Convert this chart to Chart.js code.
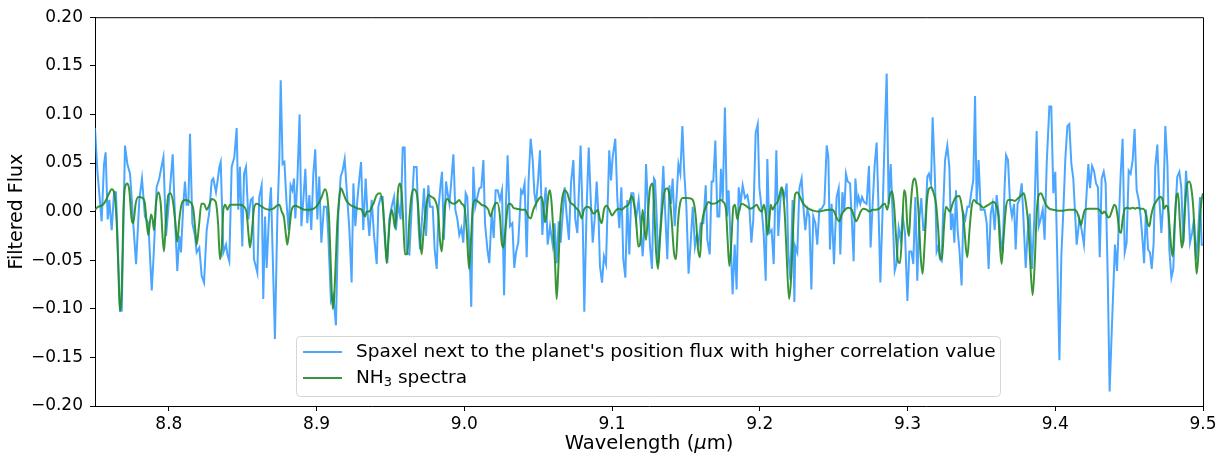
<!DOCTYPE html>
<html>
<head>
<meta charset="utf-8">
<script src="https://cdn.jsdelivr.net/npm/chart.js@4/dist/chart.umd.min.js"></script>
<style>
  html, body { margin: 0; padding: 0; background: #fff; }
  #wrap { width: 1225px; height: 461px; }
</style>
</head>
<body>
<div id="wrap"><canvas id="chart" width="1225" height="461"></canvas></div>
<script>
'use strict'

// spaxel flux (blue)
const blueWave = [
  8.7500, 8.7516, 8.7545, 8.7561, 8.7572, 8.7586, 8.7597, 8.7613, 8.7629, 8.7642,
  8.7669, 8.7681, 8.7703, 8.7719, 8.7737, 8.7748, 8.7759, 8.7778, 8.7800, 8.7818,
  8.7838, 8.7861, 8.7884, 8.7899, 8.7917, 8.7935, 8.7951, 8.7963, 8.7981, 8.8003,
  8.8026, 8.8042, 8.8057, 8.8071, 8.8082, 8.8098, 8.8109, 8.8120, 8.8132, 8.8143,
  8.8159, 8.8177, 8.8188, 8.8206, 8.8222, 8.8238, 8.8256, 8.8274, 8.8290, 8.8301,
  8.8319, 8.8330, 8.8342, 8.8351, 8.8369, 8.8387, 8.8396, 8.8409, 8.8425, 8.8443,
  8.8459, 8.8470, 8.8481, 8.8497, 8.8509, 8.8522, 8.8538, 8.8554, 8.8567, 8.8576,
  8.8588, 8.8599, 8.8612, 8.8628, 8.8639, 8.8651, 8.8662, 8.8680, 8.8691, 8.8703,
  8.8718, 8.8734, 8.8748, 8.8757, 8.8770, 8.8782, 8.8797, 8.8811, 8.8824, 8.8836,
  8.8847, 8.8856, 8.8870, 8.8885, 8.8897, 8.8910, 8.8924, 8.8937, 8.8951, 8.8964,
  8.8978, 8.8991, 8.9005, 8.9018, 8.9032, 8.9050, 8.9068, 8.9079, 8.9097, 8.9113,
  8.9131, 8.9147, 8.9163, 8.9176, 8.9190, 8.9204, 8.9222, 8.9237, 8.9249, 8.9262,
  8.9276, 8.9289, 8.9301, 8.9316, 8.9332, 8.9343, 8.9357, 8.9373, 8.9389, 8.9407,
  8.9418, 8.9434, 8.9447, 8.9463, 8.9479, 8.9492, 8.9508, 8.9524, 8.9537, 8.9553,
  8.9569, 8.9583, 8.9596, 8.9610, 8.9628, 8.9644, 8.9659, 8.9677, 8.9689, 8.9700,
  8.9716, 8.9727, 8.9741, 8.9756, 8.9768, 8.9786, 8.9799, 8.9813, 8.9826, 8.9840,
  8.9849, 8.9862, 8.9876, 8.9889, 8.9899, 8.9912, 8.9926, 8.9939, 8.9953, 8.9966,
  8.9980, 8.9993, 9.0009, 9.0020, 9.0034, 9.0047, 9.0061, 9.0074, 9.0088, 9.0102,
  9.0115, 9.0129, 9.0140, 9.0156, 9.0169, 9.0185, 9.0199, 9.0212, 9.0226, 9.0241,
  9.0255, 9.0269, 9.0282, 9.0293, 9.0309, 9.0325, 9.0338, 9.0350, 9.0365, 9.0384,
  9.0395, 9.0408, 9.0422, 9.0435, 9.0449, 9.0463, 9.0474, 9.0485, 9.0499, 9.0512,
  9.0528, 9.0539, 9.0551, 9.0564, 9.0580, 9.0598, 9.0611, 9.0625, 9.0639, 9.0652,
  9.0666, 9.0679, 9.0693, 9.0708, 9.0722, 9.0738, 9.0751, 9.0765, 9.0787, 9.0801,
  9.0812, 9.0828, 9.0842, 9.0855, 9.0869, 9.0882, 9.0896, 9.0909, 9.0918, 9.0932,
  9.0945, 9.0959, 9.0968, 9.0981, 9.0993, 9.1004, 9.1022, 9.1036, 9.1049, 9.1063,
  9.1076, 9.1090, 9.1103, 9.1117, 9.1130, 9.1144, 9.1162, 9.1180, 9.1194, 9.1207,
  9.1221, 9.1230, 9.1243, 9.1257, 9.1270, 9.1284, 9.1291, 9.1302, 9.1313, 9.1329,
  9.1347, 9.1358, 9.1374, 9.1388, 9.1399, 9.1410, 9.1424, 9.1437, 9.1449, 9.1462,
  9.1476, 9.1489, 9.1503, 9.1518, 9.1532, 9.1546, 9.1561, 9.1573, 9.1586, 9.1600,
  9.1618, 9.1634, 9.1645, 9.1661, 9.1674, 9.1685, 9.1699, 9.1713, 9.1726, 9.1737,
  9.1749, 9.1764, 9.1778, 9.1789, 9.1803, 9.1816, 9.1830, 9.1843, 9.1857, 9.1870,
  9.1884, 9.1900, 9.1916, 9.1929, 9.1943, 9.1956, 9.1972, 9.1986, 9.1997, 9.2013,
  9.2026, 9.2040, 9.2051, 9.2065, 9.2080, 9.2094, 9.2112, 9.2125, 9.2141, 9.2155,
  9.2168, 9.2182, 9.2193, 9.2207, 9.2222, 9.2234, 9.2240, 9.2254, 9.2268, 9.2283,
  9.2295, 9.2308, 9.2322, 9.2335, 9.2349, 9.2362, 9.2376, 9.2389, 9.2403, 9.2419,
  9.2437, 9.2453, 9.2464, 9.2475, 9.2486, 9.2502, 9.2520, 9.2534, 9.2545, 9.2559,
  9.2572, 9.2583, 9.2595, 9.2611, 9.2624, 9.2635, 9.2647, 9.2660, 9.2669, 9.2680,
  9.2692, 9.2705, 9.2723, 9.2739, 9.2750, 9.2764, 9.2778, 9.2791, 9.2802, 9.2816,
  9.2832, 9.2847, 9.2859, 9.2872, 9.2886, 9.2899, 9.2913, 9.2926, 9.2940, 9.2954,
  9.2967, 9.2983, 9.2999, 9.3012, 9.3026, 9.3039, 9.3053, 9.3066, 9.3080, 9.3093,
  9.3107, 9.3118, 9.3134, 9.3145, 9.3159, 9.3170, 9.3186, 9.3197, 9.3208, 9.3220,
  9.3231, 9.3242, 9.3254, 9.3269, 9.3283, 9.3294, 9.3305, 9.3317, 9.3328, 9.3339,
  9.3351, 9.3366, 9.3378, 9.3391, 9.3405, 9.3418, 9.3434, 9.3445, 9.3457, 9.3468,
  9.3481, 9.3495, 9.3509, 9.3522, 9.3536, 9.3549, 9.3563, 9.3576, 9.3590, 9.3603,
  9.3617, 9.3630, 9.3644, 9.3657, 9.3667, 9.3680, 9.3694, 9.3707, 9.3721, 9.3732,
  9.3745, 9.3757, 9.3773, 9.3784, 9.3800, 9.3813, 9.3827, 9.3842, 9.3858, 9.3874,
  9.3888, 9.3901, 9.3915, 9.3928, 9.3942, 9.3960, 9.3973, 9.3987, 9.4000, 9.4014,
  9.4028, 9.4041, 9.4055, 9.4068, 9.4082, 9.4095, 9.4109, 9.4122, 9.4145, 9.4163,
  9.4179, 9.4194, 9.4208, 9.4224, 9.4235, 9.4249, 9.4262, 9.4276, 9.4289, 9.4301,
  9.4314, 9.4328, 9.4341, 9.4355, 9.4368, 9.4382, 9.4395, 9.4404, 9.4418, 9.4429,
  9.4443, 9.4456, 9.4470, 9.4483, 9.4497, 9.4510, 9.4524, 9.4537, 9.4551, 9.4565,
  9.4578, 9.4592, 9.4601, 9.4614, 9.4628, 9.4641, 9.4653, 9.4666, 9.4677, 9.4691,
  9.4704, 9.4718, 9.4731, 9.4745, 9.4759, 9.4772, 9.4786, 9.4799, 9.4813, 9.4826,
  9.4840, 9.4853, 9.4867, 9.4885, 9.4898, 9.4912, 9.4926, 9.4939, 9.4953, 9.4968,
  9.4980, 9.4991, 9.5000
]
const blueFlux = [
  0.086, 0.042, -0.010, 0.049, 0.061, -0.008, 0.012, -0.019, 0.020, 0.020,
  -0.102, -0.102, 0.068, 0.049, 0.039, 0.015, -0.012, -0.054, 0.012, 0.034,
  -0.005, -0.012, -0.081, -0.039, 0.025, 0.034, 0.047, 0.056, -0.025, 0.015,
  0.059, -0.008, -0.061, -0.025, -0.042, 0.008, 0.031, 0.007, 0.007, 0.080,
  -0.012, -0.025, -0.042, -0.037, -0.066, -0.073, -0.019, 0.000, 0.032, 0.034,
  0.020, 0.032, 0.046, 0.051, -0.042, -0.034, -0.044, -0.051, 0.046, 0.056,
  0.086, 0.002, 0.046, -0.036, 0.039, 0.046, -0.008, 0.012, 0.014, -0.049,
  -0.056, -0.063, 0.015, 0.027, -0.090, -0.005, -0.058, 0.002, 0.025, -0.046,
  -0.131, -0.008, 0.056, 0.135, 0.049, 0.051, 0.008, -0.019, 0.027, 0.022,
  0.034, -0.007, 0.032, 0.100, -0.015, 0.012, 0.044, -0.012, 0.017, -0.019,
  0.039, 0.064, -0.008, 0.036, -0.032, 0.005, 0.005, -0.024, -0.092, -0.086,
  -0.117, -0.003, 0.036, 0.042, 0.054, 0.022, -0.019, -0.073, 0.029, -0.015,
  0.012, 0.034, 0.051, -0.019, 0.034, 0.002, -0.025, 0.012, -0.025, -0.054,
  0.005, 0.015, 0.015, -0.032, -0.053, -0.008, 0.005, 0.015, -0.019, 0.008,
  -0.008, 0.066, 0.066, -0.042, -0.044, 0.005, 0.046, 0.046, -0.012, -0.039,
  -0.002, 0.024, -0.025, 0.027, 0.005, 0.005, -0.039, -0.059, 0.005, 0.029,
  0.041, -0.029, 0.031, 0.017, 0.008, 0.032, 0.059, 0.002, -0.008, -0.024,
  -0.017, -0.032, 0.019, 0.015, -0.037, -0.098, 0.046, 0.005, 0.015, 0.024,
  0.025, 0.053, -0.012, -0.039, -0.053, -0.002, -0.027, 0.022, 0.022, 0.012,
  0.022, -0.086, 0.008, 0.058, -0.015, -0.012, -0.058, -0.042, -0.032, 0.022,
  0.019, 0.029, -0.047, 0.032, 0.075, 0.053, 0.019, 0.008, 0.032, 0.063,
  -0.024, 0.005, 0.025, -0.034, -0.015, -0.034, -0.012, -0.053, -0.010, -0.032,
  -0.003, 0.025, -0.005, -0.029, 0.029, 0.053, -0.008, -0.022, 0.068, -0.008,
  -0.103, 0.005, 0.066, 0.015, -0.032, -0.008, 0.031, -0.008, -0.056, -0.073,
  -0.046, -0.054, -0.005, 0.063, 0.032, 0.056, 0.075, 0.012, -0.017, 0.025,
  -0.049, -0.068, 0.012, -0.044, 0.019, 0.019, -0.008, 0.012, -0.015, -0.046,
  -0.012, 0.049, 0.005, -0.036, -0.059, 0.034, 0.032, -0.005, -0.053, -0.012,
  0.047, 0.005, -0.049, 0.027, 0.008, 0.034, -0.015, 0.015, 0.049, 0.039,
  0.088, 0.039, 0.005, -0.064, -0.032, 0.005, -0.036, -0.025, -0.032, -0.012,
  -0.012, 0.027, -0.029, -0.044, 0.031, 0.031, 0.073, -0.005, -0.005, 0.044,
  0.012, 0.107, -0.005, 0.022, -0.032, -0.085, -0.034, -0.080, 0.025, 0.008,
  0.027, 0.014, 0.017, 0.005, -0.032, -0.008, 0.081, 0.090, 0.025, 0.002,
  -0.022, -0.071, 0.054, -0.022, -0.019, -0.054, 0.063, -0.025, 0.015, 0.022,
  0.015, 0.029, -0.042, -0.070, 0.012, -0.093, -0.036, -0.042, 0.024, 0.034,
  0.005, -0.019, 0.002, -0.005, -0.080, -0.005, -0.012, -0.034, 0.002, 0.003,
  0.008, 0.068, 0.056, -0.039, 0.008, -0.054, 0.015, 0.024, -0.044, 0.020,
  0.000, 0.039, 0.031, 0.029, -0.012, -0.051, 0.034, 0.008, 0.015, 0.008,
  0.015, 0.010, 0.008, 0.047, -0.037, 0.008, 0.049, 0.071, 0.012, -0.073,
  0.005, 0.086, 0.142, 0.008, 0.049, -0.002, -0.061, -0.053, -0.017, -0.029,
  -0.005, -0.022, -0.092, -0.041, -0.041, -0.054, 0.015, -0.071, -0.008, 0.014,
  -0.019, -0.019, 0.036, 0.039, 0.029, 0.097, 0.032, -0.041, -0.036, -0.049,
  -0.051, 0.005, 0.053, 0.068, 0.046, -0.019, -0.002, -0.032, 0.022, -0.019,
  -0.039, -0.076, -0.002, -0.008, 0.005, 0.005, 0.022, 0.032, 0.119, 0.008,
  0.053, 0.002, 0.002, 0.002, -0.012, -0.059, -0.002, 0.008, -0.019, 0.017,
  -0.002, -0.029, -0.042, 0.025, 0.058, 0.053, 0.008, -0.005, 0.008, -0.039,
  0.008, 0.012, 0.029, -0.005, -0.058, -0.022, -0.002, -0.059, -0.008, 0.083,
  -0.015, -0.008, 0.002, -0.029, 0.049, 0.108, 0.108, 0.019, 0.041, -0.049,
  -0.153, -0.046, 0.002, 0.054, 0.088, 0.090, 0.049, 0.034, -0.034, -0.008,
  -0.019, -0.034, 0.008, 0.049, 0.024, 0.047, 0.042, 0.029, 0.025, -0.047,
  0.034, 0.041, 0.029, -0.066, -0.185, -0.124, -0.071, -0.034, -0.061, -0.015,
  0.039, 0.075, -0.042, -0.032, 0.042, 0.039, 0.053, 0.085, 0.022, 0.012,
  -0.005, -0.032, -0.053, 0.002, -0.039, -0.042, -0.059, -0.032, 0.046, 0.069,
  0.015, -0.022, 0.008, 0.088, 0.049, -0.039, -0.068, -0.059, 0.002, 0.036,
  0.041, 0.025, -0.032, 0.042, 0.015, -0.032, -0.022, -0.008, -0.049, -0.019,
  0.015, -0.034, -0.034
]

// NH3 model spectrum (green)
const greenWave = [
  8.7500, 8.7523, 8.7545, 8.7568, 8.7590, 8.7613, 8.7629, 8.7647, 8.7658, 8.7669,
  8.7681, 8.7692, 8.7703, 8.7719, 8.7732, 8.7748, 8.7759, 8.7775, 8.7793, 8.7823,
  8.7838, 8.7850, 8.7861, 8.7879, 8.7890, 8.7899, 8.7913, 8.7929, 8.7945, 8.7958,
  8.7967, 8.7981, 8.7996, 8.8012, 8.8030, 8.8046, 8.8057, 8.8071, 8.8087, 8.8109,
  8.8143, 8.8166, 8.8179, 8.8188, 8.8204, 8.8220, 8.8238, 8.8256, 8.8274, 8.8290,
  8.8317, 8.8333, 8.8346, 8.8357, 8.8369, 8.8382, 8.8396, 8.8414, 8.8481, 8.8509,
  8.8527, 8.8540, 8.8549, 8.8563, 8.8576, 8.8594, 8.8621, 8.8651, 8.8680, 8.8707,
  8.8730, 8.8748, 8.8764, 8.8779, 8.8793, 8.8802, 8.8815, 8.8831, 8.8854, 8.8888,
  8.8921, 8.8955, 8.8982, 8.9012, 8.9034, 8.9057, 8.9073, 8.9086, 8.9097, 8.9109,
  8.9118, 8.9131, 8.9140, 8.9154, 8.9165, 8.9181, 8.9199, 8.9226, 8.9253, 8.9282,
  8.9305, 8.9316, 8.9328, 8.9339, 8.9357, 8.9373, 8.9384, 8.9407, 8.9429, 8.9447,
  8.9463, 8.9474, 8.9486, 8.9497, 8.9508, 8.9519, 8.9531, 8.9542, 8.9553, 8.9565,
  8.9576, 8.9587, 8.9598, 8.9614, 8.9628, 8.9641, 8.9659, 8.9677, 8.9689, 8.9700,
  8.9711, 8.9722, 8.9741, 8.9756, 8.9779, 8.9801, 8.9824, 8.9835, 8.9847, 8.9858,
  8.9871, 8.9885, 8.9903, 8.9926, 8.9944, 8.9966, 8.9982, 9.0000, 9.0016, 9.0032,
  9.0045, 9.0056, 9.0072, 9.0095, 9.0117, 9.0147, 9.0162, 9.0178, 9.0192, 9.0208,
  9.0223, 9.0241, 9.0253, 9.0264, 9.0282, 9.0298, 9.0320, 9.0332, 9.0354, 9.0388,
  9.0411, 9.0433, 9.0449, 9.0467, 9.0485, 9.0508, 9.0523, 9.0535, 9.0546, 9.0557,
  9.0569, 9.0580, 9.0591, 9.0602, 9.0614, 9.0625, 9.0636, 9.0648, 9.0663, 9.0681,
  9.0697, 9.0715, 9.0738, 9.0760, 9.0778, 9.0794, 9.0810, 9.0833, 9.0855, 9.0873,
  9.0891, 9.0903, 9.0918, 9.0930, 9.0945, 9.0963, 9.0981, 9.1000, 9.1020, 9.1042,
  9.1065, 9.1088, 9.1110, 9.1133, 9.1148, 9.1162, 9.1178, 9.1189, 9.1207, 9.1218,
  9.1230, 9.1245, 9.1257, 9.1275, 9.1284, 9.1297, 9.1311, 9.1324, 9.1343, 9.1358,
  9.1374, 9.1388, 9.1403, 9.1419, 9.1433, 9.1446, 9.1460, 9.1478, 9.1505, 9.1539,
  9.1555, 9.1568, 9.1582, 9.1595, 9.1607, 9.1618, 9.1636, 9.1652, 9.1674, 9.1708,
  9.1735, 9.1753, 9.1771, 9.1782, 9.1794, 9.1807, 9.1821, 9.1832, 9.1848, 9.1861,
  9.1877, 9.1907, 9.1934, 9.1961, 9.1979, 9.1997, 9.2013, 9.2028, 9.2042, 9.2051,
  9.2065, 9.2074, 9.2087, 9.2103, 9.2121, 9.2137, 9.2148, 9.2159, 9.2171, 9.2182,
  9.2198, 9.2213, 9.2227, 9.2238, 9.2254, 9.2272, 9.2295, 9.2329, 9.2362, 9.2396,
  9.2430, 9.2464, 9.2493, 9.2509, 9.2525, 9.2538, 9.2554, 9.2577, 9.2599, 9.2622,
  9.2638, 9.2651, 9.2667, 9.2683, 9.2701, 9.2723, 9.2741, 9.2764, 9.2787, 9.2809,
  9.2832, 9.2847, 9.2863, 9.2881, 9.2895, 9.2908, 9.2922, 9.2935, 9.2949, 9.2963,
  9.2976, 9.2987, 9.2999, 9.3010, 9.3021, 9.3035, 9.3048, 9.3062, 9.3075, 9.3089,
  9.3102, 9.3116, 9.3130, 9.3143, 9.3161, 9.3175, 9.3193, 9.3208, 9.3220, 9.3233,
  9.3247, 9.3260, 9.3276, 9.3287, 9.3305, 9.3328, 9.3351, 9.3366, 9.3382, 9.3396,
  9.3405, 9.3418, 9.3434, 9.3450, 9.3468, 9.3491, 9.3513, 9.3536, 9.3558, 9.3581,
  9.3599, 9.3615, 9.3626, 9.3637, 9.3648, 9.3667, 9.3682, 9.3705, 9.3727, 9.3750,
  9.3773, 9.3788, 9.3802, 9.3818, 9.3833, 9.3847, 9.3863, 9.3874, 9.3888, 9.3903,
  9.3919, 9.3937, 9.3960, 9.3987, 9.4021, 9.4055, 9.4088, 9.4127, 9.4145, 9.4163,
  9.4174, 9.4185, 9.4201, 9.4224, 9.4258, 9.4285, 9.4303, 9.4319, 9.4332, 9.4343,
  9.4359, 9.4370, 9.4386, 9.4400, 9.4411, 9.4422, 9.4434, 9.4445, 9.4456, 9.4472,
  9.4488, 9.4506, 9.4524, 9.4540, 9.4556, 9.4574, 9.4596, 9.4614, 9.4625, 9.4637,
  9.4648, 9.4664, 9.4682, 9.4700, 9.4713, 9.4727, 9.4736, 9.4750, 9.4761, 9.4772,
  9.4786, 9.4795, 9.4808, 9.4822, 9.4831, 9.4844, 9.4856, 9.4867, 9.4880, 9.4894,
  9.4907, 9.4921, 9.4935, 9.4948, 9.4957, 9.4968, 9.4980, 9.4991, 9.5000
]
const greenFlux = [
  0.002, 0.005, 0.006, 0.010, 0.017, 0.023, 0.020, -0.012, -0.059, -0.102,
  -0.080, -0.002, 0.025, 0.029, 0.022, -0.008, -0.012, 0.008, 0.015, 0.014,
  0.008, -0.012, -0.024, -0.003, -0.008, -0.019, 0.008, 0.020, 0.008, -0.027,
  -0.041, -0.008, 0.017, 0.019, 0.008, -0.015, -0.031, -0.008, 0.008, 0.012,
  0.010, 0.002, -0.019, -0.034, -0.014, 0.008, 0.008, 0.002, 0.007, 0.013,
  0.010, -0.012, -0.049, -0.039, 0.002, 0.007, 0.002, 0.007, 0.007, 0.005,
  -0.002, -0.025, -0.037, -0.019, 0.003, 0.008, 0.006, 0.003, 0.002, 0.003,
  0.006, 0.007, 0.000, -0.006, -0.025, -0.034, -0.019, 0.002, 0.006, 0.004,
  0.002, 0.002, 0.003, 0.008, 0.015, 0.023, 0.015, -0.012, -0.059, -0.100,
  -0.090, -0.046, -0.012, 0.015, 0.024, 0.019, 0.012, 0.007, 0.005, 0.003,
  0.002, -0.002, -0.005, 0.000, 0.000, 0.005, 0.008, 0.017, 0.019, 0.008,
  -0.025, -0.053, -0.029, -0.008, 0.002, -0.005, -0.017, 0.002, 0.024, 0.029,
  0.019, -0.012, -0.044, -0.044, -0.008, 0.015, 0.023, 0.019, 0.002, -0.029,
  -0.044, -0.025, 0.005, 0.017, 0.015, 0.012, -0.003, -0.029, -0.041, -0.019,
  0.008, 0.013, 0.010, 0.008, 0.009, 0.012, 0.008, 0.005, -0.019, -0.059,
  -0.029, 0.002, 0.012, 0.010, 0.007, 0.005, 0.002, -0.005, 0.002, 0.008,
  0.009, -0.005, -0.032, -0.037, -0.012, 0.008, 0.007, 0.004, 0.003, 0.002,
  0.002, -0.005, -0.007, 0.002, 0.008, 0.014, 0.015, 0.005, -0.011, -0.002,
  0.017, 0.022, 0.008, -0.019, -0.053, -0.090, -0.059, -0.012, 0.014, 0.022,
  0.019, 0.010, 0.007, 0.003, 0.000, -0.007, 0.002, 0.005, 0.003, -0.002,
  0.000, 0.002, -0.008, -0.012, 0.002, 0.006, 0.002, -0.004, 0.000, 0.003,
  0.002, 0.005, 0.007, 0.016, 0.008, -0.008, -0.036, -0.034, 0.002, -0.015,
  -0.029, 0.002, 0.024, 0.029, 0.008, -0.039, -0.059, -0.029, 0.008, 0.022,
  0.024, 0.017, -0.008, -0.042, -0.049, -0.012, 0.008, 0.014, 0.014, 0.013,
  0.008, -0.008, -0.039, -0.047, -0.015, -0.003, 0.005, 0.010, 0.008, 0.009,
  0.012, 0.010, 0.002, -0.029, -0.056, -0.032, 0.005, 0.007, -0.008, 0.002,
  0.008, 0.006, 0.003, 0.005, 0.007, 0.002, 0.000, 0.007, -0.005, -0.024,
  -0.008, 0.007, 0.002, 0.007, 0.010, 0.019, 0.025, 0.017, -0.008, -0.046,
  -0.090, -0.066, -0.012, 0.017, 0.020, 0.015, 0.008, 0.003, 0.001, 0.000,
  0.001, 0.002, 0.002, -0.002, -0.008, -0.010, -0.003, 0.002, 0.004, 0.002,
  -0.005, -0.010, -0.006, 0.000, 0.003, 0.002, 0.000, 0.002, 0.002, 0.003,
  0.007, 0.008, 0.002, 0.017, 0.021, 0.008, -0.025, -0.051, -0.053, -0.022,
  0.022, 0.017, -0.015, -0.025, 0.005, 0.029, 0.034, 0.025, -0.002, -0.046,
  -0.064, -0.032, 0.008, 0.023, 0.025, 0.020, 0.008, -0.019, -0.046, -0.049,
  -0.015, 0.005, 0.002, 0.000, 0.008, 0.015, 0.016, 0.007, -0.012, -0.039,
  -0.047, -0.022, 0.005, 0.012, 0.009, 0.007, 0.004, 0.006, 0.008, 0.010,
  0.007, -0.005, -0.036, -0.054, -0.032, 0.005, 0.012, 0.012, 0.011, 0.014,
  0.017, 0.019, 0.008, -0.015, -0.059, -0.086, -0.046, -0.002, 0.017, 0.019,
  0.014, 0.007, 0.003, 0.002, 0.001, 0.001, 0.002, 0.002, 0.000, -0.008,
  -0.014, -0.007, 0.002, 0.003, 0.003, 0.003, 0.001, -0.002, 0.000, -0.002,
  -0.006, -0.005, 0.002, 0.007, 0.005, -0.005, -0.020, -0.022, -0.008, 0.003,
  0.004, 0.003, 0.004, 0.003, 0.004, 0.003, 0.003, -0.003, -0.012, -0.015,
  -0.005, 0.005, 0.010, 0.014, 0.015, 0.012, 0.003, 0.006, 0.005, -0.012,
  -0.039, -0.046, -0.012, 0.017, 0.019, -0.012, -0.037, -0.029, 0.008, 0.029,
  0.031, 0.024, 0.002, -0.042, -0.064, -0.046, -0.005, 0.012, 0.019
]

const xTicks = [8.8, 8.9, 9.0, 9.1, 9.2, 9.3, 9.4, 9.5]
const yTicks = [-0.20, -0.15, -0.10, -0.05, 0.00, 0.05, 0.10, 0.15, 0.20]

const blueLabel = "Spaxel next to the planet's position flux with higher correlation value"
const greenLabel = 'NH\u2083 spectra'

const FONT = "'DejaVu Sans', 'Liberation Sans', sans-serif"
const blueColor = 'rgba(30, 144, 255, 0.8)'
const greenColor = 'rgba(34, 139, 34, 0.9)'

const toPoints = (xs, ys) => xs.map((x, i) => ({ x: x, y: ys[i] }))

// top/right spines, axis titles and the legend box (drawn like matplotlib)
const frameAndLegend = {
  id: 'frameAndLegend',
  afterDraw (chart) {
    const ctx = chart.ctx
    const a = chart.chartArea
    ctx.save()

    // top and right spines
    ctx.strokeStyle = '#000'
    ctx.lineWidth = 1
    ctx.beginPath()
    ctx.moveTo(a.left, a.top + 0.5)
    ctx.lineTo(a.right + 0.5, a.top + 0.5)
    ctx.lineTo(a.right + 0.5, a.bottom)
    ctx.stroke()

    // y axis title
    ctx.fillStyle = '#000'
    ctx.font = '19px ' + FONT
    ctx.textAlign = 'center'
    ctx.textBaseline = 'middle'
    ctx.save()
    ctx.translate(17, (a.top + a.bottom) / 2)
    ctx.rotate(-Math.PI / 2)
    ctx.fillText('Filtered Flux', 0, 0)
    ctx.restore()

    // x axis title with italic mu
    const parts = [
      { t: 'Wavelength (', f: '19.5px ' + FONT },
      { t: '\u03bc', f: 'italic 19.5px ' + FONT },
      { t: 'm)', f: '19.5px ' + FONT }
    ]
    let total = 0
    parts.forEach(p => { ctx.font = p.f; p.w = ctx.measureText(p.t).width; total += p.w })
    let tx = (a.left + a.right) / 2 - total / 2
    ctx.textAlign = 'left'
    parts.forEach(p => { ctx.font = p.f; ctx.fillText(p.t, tx, 444); tx += p.w })

    // legend
    const lx = 296.5
    const ly = 336.5
    const lw = 704
    const lh = 60
    const r = 4
    ctx.beginPath()
    ctx.moveTo(lx + r, ly)
    ctx.lineTo(lx + lw - r, ly)
    ctx.quadraticCurveTo(lx + lw, ly, lx + lw, ly + r)
    ctx.lineTo(lx + lw, ly + lh - r)
    ctx.quadraticCurveTo(lx + lw, ly + lh, lx + lw - r, ly + lh)
    ctx.lineTo(lx + r, ly + lh)
    ctx.quadraticCurveTo(lx, ly + lh, lx, ly + lh - r)
    ctx.lineTo(lx, ly + r)
    ctx.quadraticCurveTo(lx, ly, lx + r, ly)
    ctx.closePath()
    ctx.fillStyle = 'rgba(255, 255, 255, 0.8)'
    ctx.fill()
    ctx.strokeStyle = 'rgba(204, 204, 204, 0.8)'
    ctx.stroke()

    ctx.lineWidth = 2
    ctx.strokeStyle = blueColor
    ctx.beginPath(); ctx.moveTo(303, 352); ctx.lineTo(342, 352); ctx.stroke()
    ctx.strokeStyle = greenColor
    ctx.beginPath(); ctx.moveTo(303, 378); ctx.lineTo(342, 378); ctx.stroke()

    ctx.fillStyle = '#000'
    ctx.textBaseline = 'middle'
    ctx.font = '18.5px ' + FONT
    ctx.fillText(blueLabel, 356, 352)
    // NH3 with a real subscript
    let gx = 356
    ctx.fillText('NH', gx, 378)
    gx += ctx.measureText('NH').width
    ctx.font = '13px ' + FONT
    ctx.fillText('3', gx, 383)
    gx += ctx.measureText('3').width
    ctx.font = '18.5px ' + FONT
    ctx.fillText(' spectra', gx, 378)

    ctx.restore()
  }
}

const ctx = document.getElementById('chart')

const fluxChart = new Chart(ctx, {
  type: 'line',
  data: {
    datasets: [{
      label: blueLabel,
      data: toPoints(blueWave, blueFlux),
      borderColor: blueColor,
      borderWidth: 2,
      pointRadius: 0,
      tension: 0,
      order: 2
    },
    {
      label: greenLabel,
      data: toPoints(greenWave, greenFlux),
      borderColor: greenColor,
      borderWidth: 2,
      pointRadius: 0,
      cubicInterpolationMode: 'monotone',
      order: 1
    }]
  },
  options: {
    responsive: false,
    animation: false,
    devicePixelRatio: 1,
    layout: { padding: { top: 14, right: 22, left: 0, bottom: 0 } },
    plugins: {
      legend: { display: false },
      tooltip: { enabled: false }
    },
    scales: {
      x: {
        type: 'linear',
        min: 8.75,
        max: 9.5,
        afterFit: scale => { scale.height = 55 },
        afterBuildTicks: scale => { scale.ticks = xTicks.map(v => ({ value: v })) },
        grid: { drawOnChartArea: false, drawTicks: true, tickLength: 5, tickColor: '#000', tickWidth: 1 },
        border: { display: true, color: '#000', width: 1 },
        ticks: {
          color: '#000',
          font: { family: FONT, size: 17 },
          padding: 3,
          maxRotation: 0,
          autoSkip: false,
          callback: v => v.toFixed(1)
        }
      },
      y: {
        type: 'linear',
        min: -0.2,
        max: 0.2,
        afterFit: scale => { scale.width = 95 },
        afterBuildTicks: scale => { scale.ticks = yTicks.map(v => ({ value: v })) },
        grid: { drawOnChartArea: false, drawTicks: true, tickLength: 5, tickColor: '#000', tickWidth: 1 },
        border: { display: true, color: '#000', width: 1 },
        ticks: {
          color: '#000',
          font: { family: FONT, size: 17 },
          padding: 7,
          autoSkip: false,
          callback: v => v.toFixed(2).replace('-', '\u2212')
        }
      }
    }
  },
  plugins: [frameAndLegend]
})

window.fluxChart = fluxChart
</script>
</body>
</html>
